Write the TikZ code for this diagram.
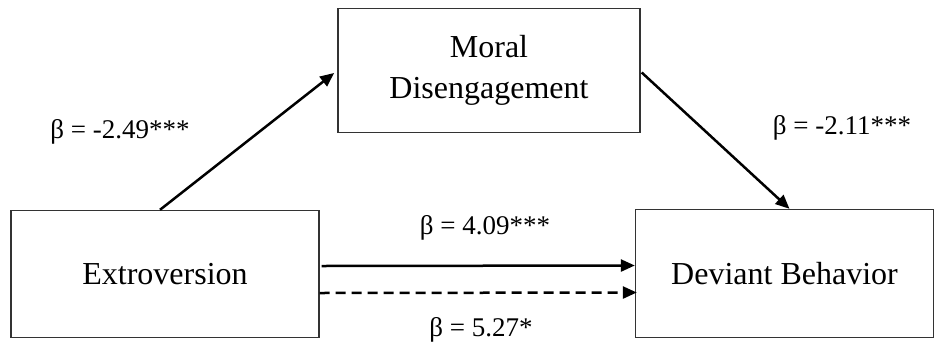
\documentclass[tikz,border=0pt]{standalone}
\usepackage{fontspec}
\setmainfont{Liberation Serif}
\usetikzlibrary{calc, positioning}
\usetikzlibrary{arrows.meta}
\tikzset{
  varbox/.style={draw=black!80,line width=0.7pt,inner sep=0pt,align=center,font=\fontsize{16}{19.5}\selectfont},
  path arrow/.style={black,line width=1.25pt,-{Triangle[length=7pt,width=6pt]}},
  coef/.style={font=\fontsize{13.5}{16}\selectfont,inner sep=0pt}
}
\begin{document}
\begin{tikzpicture}[x=0.5pt,y=-0.5pt]
\useasboundingbox (0,0) rectangle (935,343);
% variables
\node[varbox,minimum width=154pt,minimum height=63.5pt] (ext) at (165,274) {Extroversion};
\node[varbox,minimum width=151pt,minimum height=62pt] (moral) at (489,70.5) {Moral\\[1pt]Disengagement};
\node[varbox,minimum width=149pt,minimum height=64pt] (dev) at (784.5,273.5) {Deviant Behavior};
% paths
\draw[path arrow,shorten >=2pt] ([xshift=-2.5pt]ext.north) -- (moral.west);
\draw[path arrow] ([xshift=0.5pt,yshift=-1pt]moral.east) -- ([xshift=2.5pt]dev.north);
\draw[path arrow] ([xshift=1pt,yshift=4pt]ext.east) -- ([yshift=4pt]dev.west);
\draw[path arrow,dash pattern=on 5pt off 3pt] ([yshift=-9.5pt]ext.east) -- ([xshift=1pt,yshift=-9.5pt]dev.west);
% coefficients
\node[coef] (a) at (120,132) {β = -2.49***};
\node[coef] (b) at (842,128) {β = -2.11***};
\node[coef] (c) at (485,228) {β = 4.09***};
\node[coef] (cp) at (481,330) {β = 5.27*};
\end{tikzpicture}
\end{document}
